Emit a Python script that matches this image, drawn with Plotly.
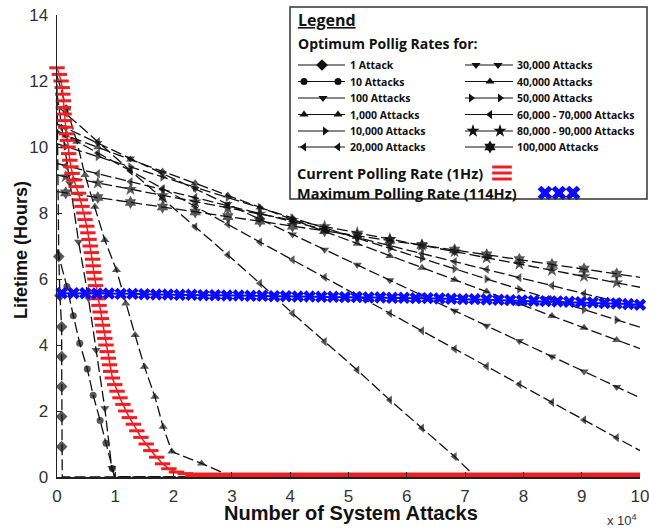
import numpy as np
import plotly.graph_objects as go

# ---------------- data (x in units of 10^4 attacks, y in hours) ----------------
grid_x = [0.0, 0.15, 0.70, 1.26, 1.81, 2.37, 2.93, 3.48, 4.04, 4.59, 5.15, 5.71,
          6.26, 6.82, 7.37, 7.93, 8.49, 9.04, 9.60, 10.0]

a1_x = [0.0, 0.03, 0.05, 0.08, 0.08, 0.08, 0.08, 0.08, 0.09, 10.0]
a1_y = [11.9, 6.68, 5.50, 4.55, 3.65, 2.74, 1.83, 0.92, 0.0, 0.0]

a10_x = [0.0, 0.17, 0.28, 0.39, 0.52, 0.62, 0.74, 0.84, 0.95, 0.99, 10.0]
a10_y = [6.9, 5.77, 4.89, 4.05, 3.27, 2.48, 1.71, 1.02, 0.26, 0.0, 0.0]

a100_x = [0.0, 0.08, 0.22, 0.37, 0.54, 0.67, 0.82, 0.94, 0.99, 10.0]
a100_y = [11.6, 10.6, 8.9, 7.13, 5.41, 3.85, 2.08, 0.27, 0.0, 0.0]

a1000_x = [0.0, 0.17, 0.34, 0.48, 0.65, 0.82, 1.02, 1.18, 1.34, 1.50, 1.68, 1.82, 1.97, 2.48, 2.95, 10.0]
a1000_y = [12.15, 11.17, 10.16, 9.15, 8.19, 7.18, 6.27, 5.26, 4.30, 3.34, 2.43, 1.52, 0.77, 0.41, 0.05, 0.0]

a10k_x = [0.0, 0.15, 0.70, 1.26, 1.81, 2.37, 2.93, 3.48, 4.04, 4.59, 5.15, 5.71, 6.26, 6.82, 7.15, 10.0]
a10k_y = [11.25, 11.02, 10.16, 9.28, 8.43, 7.58, 6.73, 5.87, 4.96, 4.10, 3.24, 2.33, 1.48, 0.62, 0.05, 0.0]

a20k_y = [10.5, 10.35, 9.82, 9.28, 8.74, 8.20, 7.66, 7.12, 6.58, 6.05, 5.50, 4.96,
          4.43, 3.88, 3.35, 2.81, 2.26, 1.73, 1.19, 0.80]
a30k_y = [10.7, 10.58, 10.12, 9.65, 9.20, 8.73, 8.27, 7.81, 7.35, 6.89, 6.43, 5.96,
          5.50, 5.04, 4.58, 4.12, 3.65, 3.20, 2.73, 2.40]
a40k_y = [10.45, 10.35, 9.99, 9.62, 9.26, 8.90, 8.53, 8.17, 7.80, 7.44, 7.07, 6.70,
          6.34, 5.98, 5.62, 5.25, 4.88, 4.52, 4.15, 3.89]
a50k_y = [10.1, 10.02, 9.71, 9.40, 9.09, 8.78, 8.47, 8.17, 7.85, 7.55, 7.24, 6.93,
          6.62, 6.31, 6.00, 5.69, 5.38, 5.07, 4.76, 4.54]
a60k_y = [9.5, 9.43, 9.19, 8.95, 8.71, 8.47, 8.22, 7.98, 7.74, 7.50, 7.25, 7.01,
          6.77, 6.53, 6.29, 6.04, 5.80, 5.56, 5.31, 5.14]
a80k_y = [9.15, 9.10, 8.91, 8.72, 8.53, 8.34, 8.15, 7.97, 7.78, 7.59, 7.40, 7.21,
          7.02, 6.83, 6.64, 6.45, 6.26, 6.08, 5.89, 5.75]
a100k_y = [8.65, 8.61, 8.47, 8.32, 8.18, 8.03, 7.89, 7.75, 7.60, 7.46, 7.31, 7.17,
           7.02, 6.88, 6.73, 6.59, 6.44, 6.30, 6.15, 6.05]

# current polling rate (1 Hz)
cur_y = [12.4, 12.2, 12.0, 11.8, 11.6, 11.4, 11.2, 11.0, 10.8, 10.6, 10.4, 10.2, 10.0,
         9.8, 9.6, 9.4, 9.2, 9.0, 8.8, 8.6, 8.4, 8.2, 8.0, 7.8, 7.6, 7.4, 7.2, 7.0,
         6.8, 6.6, 6.4, 6.2, 6.0, 5.8, 5.6, 5.4, 5.2, 5.0, 4.8, 4.6, 4.4, 4.2, 4.0,
         3.8, 3.6, 3.4, 3.2, 3.0, 2.8, 2.6, 2.4, 2.2, 2.0, 1.8, 1.6, 1.4, 1.2, 1.0,
         0.8, 0.6, 0.4, 0.25, 0.15, 0.1]
cur_x = [0.0, 0.04, 0.07, 0.09, 0.10, 0.11, 0.11, 0.12, 0.13, 0.15, 0.16, 0.18, 0.19,
         0.20, 0.22, 0.24, 0.26, 0.29, 0.33, 0.37, 0.40, 0.43, 0.46, 0.48, 0.51, 0.53,
         0.55, 0.57, 0.59, 0.61, 0.62, 0.63, 0.65, 0.66, 0.68, 0.70, 0.72, 0.74, 0.76,
         0.78, 0.80, 0.82, 0.84, 0.86, 0.88, 0.90, 0.92, 0.95, 0.99, 1.03, 1.08, 1.13,
         1.18, 1.24, 1.31, 1.37, 1.44, 1.53, 1.61, 1.71, 1.81, 1.92, 2.05, 2.20]
cur_flat_x = [2.20, 10.0]
cur_flat_y = [0.06, 0.06]

# maximum polling rate (114 Hz)
max_y = [5.57, 5.57, 5.57, 5.56, 5.56, 5.55, 5.55, 5.54, 5.53, 5.53, 5.52, 5.52, 5.51,
         5.51, 5.50, 5.50, 5.49, 5.49, 5.48, 5.48, 5.47, 5.47, 5.46, 5.46, 5.45, 5.45,
         5.44, 5.44, 5.43, 5.43, 5.42, 5.42, 5.41, 5.40, 5.39, 5.39, 5.38, 5.37, 5.36,
         5.35, 5.34, 5.33, 5.32, 5.31, 5.30, 5.29, 5.27, 5.26, 5.24, 5.22]
max_x = list(np.linspace(0.08, 10.0, len(max_y)))

x_ticks = list(range(0, 11))
y_ticks = [0, 2, 4, 6, 8, 10, 12, 14]

legend_col1 = ["1 Attack", "10 Attacks", "100 Attacks", "1,000 Attacks",
               "10,000 Attacks", "20,000 Attacks"]
legend_col2 = ["30,000 Attacks", "40,000 Attacks", "50,000 Attacks",
               "60,000 - 70,000 Attacks", "80,000 - 90,000 Attacks", "100,000 Attacks"]

# ---------------- figure ----------------
W, H = 649, 529
X0, X1, Y0, Y1 = 57, 640, 15, 477   # plot area in pixels
BLACK = "#111111"
RED = "#f01e23"
BLUE = "#0a0aff"
DASH = "11px,4px"

fig = go.Figure()


def series(x, y, symbol, size):
    sizes = [0 if (xi <= 0 or xi >= 10 or yi <= 0.06) else size for xi, yi in zip(x, y)]
    fig.add_trace(go.Scatter(
        x=x, y=y, mode="lines+markers", cliponaxis=False,
        line=dict(color=BLACK, width=1.3, dash=DASH),
        marker=dict(symbol=symbol, size=sizes, color=BLACK, line=dict(width=0)),
        hoverinfo="skip"))


series(grid_x, a100k_y, "hexagram", 10)
series(grid_x, a80k_y, "star", 10)
series(grid_x, a60k_y, "triangle-left", 8)
series(grid_x, a50k_y, "triangle-right", 8)
series(grid_x, a40k_y, "triangle-up", 8)
series(grid_x, a30k_y, "triangle-down", 8)
series(grid_x, a20k_y, "triangle-left", 8)
series(a10k_x, a10k_y, "triangle-left", 8)
series(a1000_x, a1000_y, "triangle-up", 8)
series(a100_x, a100_y, "triangle-down", 8)
series(a10_x, a10_y, "circle", 7)
series(a1_x, a1_y, "diamond", 9)

fig.add_trace(go.Scatter(x=cur_flat_x, y=cur_flat_y, mode="lines",
                         line=dict(color=RED, width=5), hoverinfo="skip"))
fig.add_trace(go.Scatter(
    x=cur_x, y=cur_y, mode="lines+markers", cliponaxis=False,
    line=dict(color=RED, width=1.5),
    marker=dict(symbol="line-ew", size=11, color=RED, line=dict(color=RED, width=3)),
    hoverinfo="skip"))
fig.add_trace(go.Scatter(
    x=max_x, y=max_y, mode="lines+markers", cliponaxis=False,
    line=dict(color=BLUE, width=2),
    marker=dict(symbol="x", size=11, color=BLUE, line=dict(width=0)),
    hoverinfo="skip"))

# ---------------- legend drawn in pixel space (x2/y2) ----------------
LFONT = "Open Sans"
rows = [65, 81.5, 98, 114.5, 131, 147]
c1 = (298, 345)
c2 = (465, 513)
c1_markers = [("diamond", [322], 9), ("circle", [304, 338], 7), ("triangle-down", [323], 8),
              ("triangle-up", [304, 338], 8), ("triangle-right", [325], 8),
              ("triangle-left", [304, 338], 8)]
c2_markers = [("triangle-down", [476, 498], 8), ("triangle-up", [490], 8),
              ("triangle-right", [471, 500], 8), ("triangle-left", [490], 8),
              ("star", [473, 500], 10), ("hexagram", [490], 10)]

for (lx0, lx1), mk in ((c1, c1_markers), (c2, c2_markers)):
    for ry, (sym, xs, sz) in zip(rows, mk):
        fig.add_trace(go.Scatter(x=[lx0, lx1], y=[ry, ry], mode="lines", xaxis="x2", yaxis="y2",
                                 line=dict(color=BLACK, width=1.2), hoverinfo="skip"))
        fig.add_trace(go.Scatter(x=xs, y=[ry] * len(xs), mode="markers", xaxis="x2", yaxis="y2",
                                 marker=dict(symbol=sym, size=sz, color=BLACK), hoverinfo="skip"))

fig.add_trace(go.Scatter(x=[502, 502, 502], y=[167, 173, 179], mode="markers", xaxis="x2", yaxis="y2",
                         marker=dict(symbol="line-ew", size=14, line=dict(color=RED, width=3)),
                         hoverinfo="skip"))
fig.add_trace(go.Scatter(x=[545, 559, 573], y=[193, 193, 193], mode="markers", xaxis="x2", yaxis="y2",
                         marker=dict(symbol="x", size=13, color=BLUE, line=dict(width=0)),
                         hoverinfo="skip"))

ann = []


def txt(x, y, s, size, bold=True, anchor="left", family=LFONT, color="#111", angle=0):
    ann.append(dict(x=x, y=y, xref="x2", yref="y2", text=s, showarrow=False,
                    xanchor=anchor, yanchor="middle", textangle=angle,
                    font=dict(family=family, size=size, color=color,
                              weight=700 if bold else 400)))


txt(296, 20, "<u>Legend</u>", 16)
txt(296, 43, "Optimum Pollig Rates for:", 14)
for ry, s in zip(rows, legend_col1):
    txt(348, ry, s, 10.5)
for ry, s in zip(rows, legend_col2):
    txt(515, ry, s, 10.5)
txt(295, 173, "Current Polling Rate (1Hz)", 14.5)
txt(295, 193, "Maximum Polling Rate (114Hz)", 14.5)

# axis titles
txt(351, 513, "Number of System Attacks", 20, anchor="center", family="Liberation Sans")
txt(21, 250, "Lifetime (Hours)", 18, anchor="center", family="Liberation Sans", angle=-90)
txt(622, 520, "x 10<sup>4</sup>", 13, bold=False, anchor="center", family="Liberation Sans", color="#333")

shapes = [dict(type="rect", xref="x2", yref="y2", x0=290, y0=7, x1=647, y1=199,
               line=dict(color="#333", width=1.5), fillcolor="rgba(0,0,0,0)")]

fig.update_layout(
    width=W, height=H, margin=dict(l=0, r=0, t=0, b=0, pad=0, autoexpand=False),
    paper_bgcolor="white", plot_bgcolor="rgba(0,0,0,0)", showlegend=False,
    xaxis=dict(domain=[X0 / W, X1 / W], range=[0, 10], tickvals=x_ticks,
               ticks="inside", ticklen=5, tickcolor="#222", showline=True, linecolor="#222",
               linewidth=1.5, showgrid=False, zeroline=False, mirror=False, automargin=False,
               tickfont=dict(family="Liberation Sans", size=17, color="#333"),
               ticklabelstandoff=3, ticklabeloverflow="allow", fixedrange=True),
    yaxis=dict(domain=[1 - Y1 / H, 1 - Y0 / H], range=[0, 14], tickvals=y_ticks,
               ticks="inside", ticklen=5, tickcolor="#222", showline=True, linecolor="#222",
               linewidth=1.5, showgrid=False, zeroline=False, mirror=False, automargin=False,
               tickfont=dict(family="Liberation Sans", size=17, color="#333"),
               ticklabelstandoff=4, ticklabeloverflow="allow", fixedrange=True),
    xaxis2=dict(domain=[0, 1], range=[0, W], visible=False, anchor="y2", fixedrange=True,
                automargin=False),
    yaxis2=dict(domain=[0, 1], range=[H, 0], visible=False, anchor="x2", fixedrange=True,
                automargin=False),
    annotations=ann, shapes=shapes,
)

fig.write_html("out.html", config={"staticPlot": True},
               post_script="document.body.style.margin='0px';document.body.style.overflow='hidden';")
